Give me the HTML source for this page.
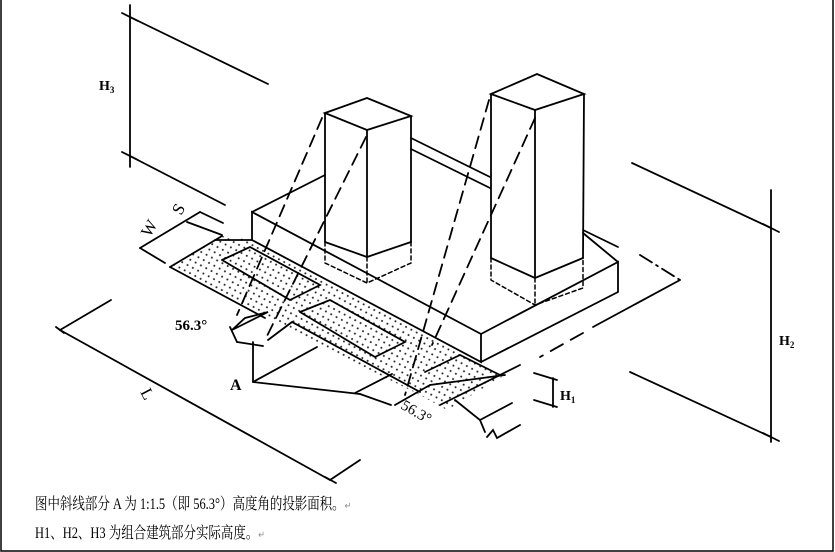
<!DOCTYPE html>
<html><head><meta charset="utf-8"><style>
html,body{margin:0;padding:0;background:#fff}
svg{display:block}
</style></head><body>
<svg width="835" height="552" viewBox="0 0 835 552" xmlns="http://www.w3.org/2000/svg">
<defs>
<pattern id="dots" width="6" height="6" patternUnits="userSpaceOnUse" patternTransform="rotate(28)">
<circle cx="2" cy="2" r="1" fill="#222"/>
</pattern>
</defs>
<rect x="1" y="-2" width="832" height="553" fill="none" stroke="#000" stroke-width="1.5"/>
<g stroke="#000" stroke-width="1.8" fill="none" stroke-linecap="round">
<polygon points="170,267 222,236 252,240 505,375 447,410 420,395 230,300" fill="url(#dots)" stroke="none"/>
<polyline points="170,267 222,236"/>
<line x1="170" y1="267" x2="265" y2="318"/>
<polyline points="215,240 252,240"/>
<polyline points="222,260 250,247 320,285 290,300 222,260"/>
<polyline points="232,330 245,318 268,312 232,330"/>
<polyline points="300,312 330,300 405,342 375,357 300,312"/>
<polyline points="268,340 292,322 420,392"/>
<polyline points="355,393 392,374"/>
<polyline points="395,405 430,385 505,375"/>
<polyline points="425,372 460,355 500,375"/>
<line x1="440" y1="405" x2="520" y2="365"/>
<polyline points="455,400 480,420 485,432"/>
<polyline points="480,420 512,403"/>
<polyline points="487,437 493,430 497,438 520,425"/>
<line x1="253" y1="382" x2="253" y2="342"/>
<line x1="253" y1="382" x2="317" y2="347"/>
<line x1="253" y1="382" x2="360" y2="394"/>
<line x1="230" y1="327" x2="237" y2="342"/>
<line x1="237" y1="342" x2="263" y2="346"/>
<line x1="360" y1="394" x2="391" y2="405"/>
<polyline points="252,240 252,212 481,334 481,362 252,240"/>
<line x1="252" y1="212" x2="325" y2="175"/>
<polyline points="481,334 618,262 618,292 481,362"/>
<line x1="583" y1="233" x2="618" y2="262"/>
<polygon points="325,113 367,98 411,116 367,130" fill="#fff"/>
<line x1="325" y1="113" x2="325" y2="242"/>
<line x1="367" y1="130" x2="367" y2="257"/>
<line x1="411" y1="116" x2="411" y2="242"/>
<polyline points="325,242 367,257 411,242"/>
<g stroke-dasharray="4,3" stroke-width="1.5">
<polyline points="325,242 325,263 367,283 411,263 411,242"/>
<line x1="367" y1="257" x2="367" y2="283"/>
<polyline points="491,258 491,280 535,305 583,288 583,258"/>
<line x1="535" y1="278" x2="535" y2="305"/>
</g>
<polygon points="491,94 537,74 584,94 535,110" fill="#fff"/>
<line x1="491" y1="94" x2="491" y2="258"/>
<line x1="535" y1="110" x2="535" y2="278"/>
<line x1="584" y1="94" x2="583" y2="258"/>
<polyline points="491,258 535,278 583,258"/>
<line x1="411" y1="138" x2="490" y2="177"/>
<line x1="411" y1="149" x2="490" y2="188"/>
<line x1="583" y1="230" x2="618" y2="247"/>
<line x1="640" y1="255" x2="680" y2="280" stroke-dasharray="14,5,2,5"/>
<line x1="680" y1="280" x2="593" y2="327"/>
<line x1="583" y1="333" x2="540" y2="357" stroke-dasharray="14,9"/>
<g stroke-dasharray="12,7" stroke-width="1.8">
<line x1="322" y1="118" x2="237" y2="315"/>
<line x1="366" y1="137" x2="265" y2="340"/>
<line x1="489" y1="100" x2="405" y2="395"/>
<line x1="535" y1="118" x2="432" y2="345"/>
</g>
<line x1="130" y1="5" x2="130" y2="167"/>
<line x1="122" y1="13" x2="138" y2="21"/>
<line x1="122" y1="152" x2="138" y2="160"/>
<line x1="130" y1="17" x2="268" y2="84"/>
<line x1="130" y1="156" x2="225" y2="205"/>
<line x1="771" y1="190" x2="771" y2="442"/>
<line x1="763" y1="224" x2="779" y2="232"/>
<line x1="763" y1="433" x2="779" y2="441"/>
<line x1="632" y1="163" x2="771" y2="228"/>
<line x1="630" y1="372" x2="771" y2="437"/>
<line x1="553" y1="378" x2="553" y2="407"/>
<line x1="534" y1="373" x2="557" y2="380"/>
<line x1="534" y1="400" x2="557" y2="407"/>
<line x1="60" y1="330" x2="330" y2="480"/>
<line x1="60" y1="330" x2="111" y2="300"/>
<line x1="330" y1="480" x2="360" y2="460"/>
<line x1="56" y1="327" x2="64" y2="333"/>
<line x1="325" y1="477" x2="336" y2="483"/>
<line x1="140" y1="248" x2="200" y2="212"/>
<line x1="140" y1="248" x2="165" y2="263"/>
<line x1="187" y1="222" x2="222" y2="235"/>
<line x1="200" y1="212" x2="223" y2="223"/>
</g>
<g font-family="Liberation Serif, serif" font-weight="bold" fill="#000">
<text x="99" y="90" font-size="14">H<tspan font-size="9" dy="3">3</tspan></text>
<text x="779" y="345" font-size="14">H<tspan font-size="9" dy="3">2</tspan></text>
<text x="560" y="400" font-size="14">H<tspan font-size="9" dy="3">1</tspan></text>
<text x="230" y="390" font-size="16">A</text>
<text x="175" y="330" font-size="15">56.3°</text>
</g>
<g font-family="Liberation Serif, serif" fill="#000" font-size="17">
<text transform="translate(140,392) rotate(62)">L</text>
<text transform="translate(150,238) rotate(-60)">W</text>
<text transform="translate(181,216) rotate(-60)">S</text>
<text transform="translate(400,408) rotate(30)" font-size="15">56.3°</text>
</g>
<g font-family="Liberation Serif, 'Noto Serif CJK SC', serif" font-size="16" fill="#000" transform="translate(35,0) scale(0.78,1)">
<text x="0" y="509">图中斜线部分 A 为 1:1.5（即 56.3°）高度角的投影面积。<tspan font-size="10" fill="#888">↵</tspan></text>
<text x="0" y="538">H1、H2、H3 为组合建筑部分实际高度。<tspan font-size="10" fill="#888">↵</tspan></text>
</g>
</svg>
</body></html>
